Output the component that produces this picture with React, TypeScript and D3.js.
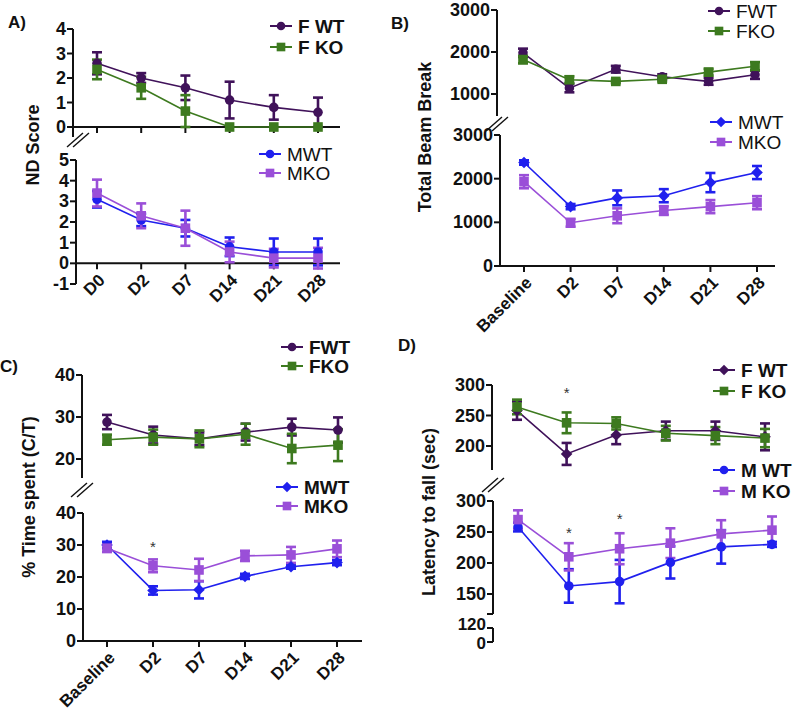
import { useEffect, useRef } from "react"
import * as d3 from "d3"

// categories
const catsA = ["D0", "D2", "D7", "D14", "D21", "D28"]
const catsB = ["Baseline", "D2", "D7", "D14", "D21", "D28"]

// A) ND score
const ndFWT = [2.6, 2.0, 1.6, 1.1, 0.8, 0.6]
const ndFWTerr = [0.45, 0.2, 0.5, 0.75, 0.5, 0.6]
const ndFKO = [2.35, 1.6, 0.65, 0, 0, 0]
const ndFKOerr = [0.4, 0.45, 0.65, 0, 0, 0]
const ndMWT = [3.1, 2.1, 1.7, 0.8, 0.55, 0.55]
const ndMWTerr = [0.4, 0.3, 0.4, 0.45, 0.65, 0.65]
const ndMKO = [3.4, 2.3, 1.7, 0.55, 0.25, 0.25]
const ndMKOerr = [0.65, 0.6, 0.85, 0.5, 0.45, 0.5]

// B) total beam break
const bbFWT = [1980, 1140, 1590, 1410, 1300, 1460]
const bbFWTerr = [100, 100, 80, 60, 80, 100]
const bbFKO = [1820, 1340, 1300, 1350, 1520, 1660]
const bbFKOerr = [90, 80, 40, 50, 80, 100]
const bbMWT = [2370, 1360, 1560, 1610, 1910, 2140]
const bbMWTerr = [50, 60, 170, 150, 220, 150]
const bbMKO = [1930, 990, 1150, 1270, 1360, 1450]
const bbMKOerr = [150, 90, 170, 100, 150, 150]

// C) % time spent
const tsFWT = [28.8, 25.7, 24.8, 26.4, 27.6, 26.9]
const tsFWTerr = [1.7, 2.0, 1.5, 2.0, 2.0, 3.0]
const tsFKO = [24.6, 25.2, 24.8, 25.9, 22.5, 23.3]
const tsFKOerr = [1.2, 1.8, 2.0, 2.5, 3.5, 3.8]
const tsMWT = [30.0, 15.8, 16.0, 20.2, 23.2, 24.5]
const tsMWTerr = [1.0, 1.3, 2.7, 0.8, 0.6, 0.8]
const tsMKO = [29.0, 23.5, 22.2, 26.6, 26.9, 28.8]
const tsMKOerr = [1.2, 2.0, 3.5, 1.6, 2.5, 2.6]

// D) latency to fall
const ltFWT = [258, 187, 218, 225, 225, 215]
const ltFWTerr = [15, 18, 15, 15, 15, 22]
const ltFKO = [264, 238, 237, 221, 217, 213]
const ltFKOerr = [12, 17, 10, 12, 14, 15]
const ltMWT = [258, 163, 170, 201, 226, 230]
const ltMWTerr = [7, 27, 35, 26, 27, 4]
const ltMKO = [270, 210, 223, 232, 247, 253]
const ltMKOerr = [15, 22, 25, 24, 22, 22]

const C_FWT = "#40125a"
const C_FKO = "#3d7a1f"
const C_MWT = "#2020ee"
const C_MKO = "#9a4fd8"

const FONT = "'Liberation Sans', Arial, sans-serif"

type Series = { name: string; color: string; marker: string; mean: number[]; err: number[] }
type Sub = {
  cats: string[]
  xr: [number, number]
  domain: [number, number]
  yr: [number, number]
  ax: number
  axTop: number
  axBot: number
  ticks: number[]
  xAxisAt?: number
  xAxisEnd?: number
  xLabels?: boolean
  series: Series[]
  legend: { x: number; y: number; bold: boolean; gap: number }
  stars?: { cat: string; v: number }[]
}

const subs: Sub[] = [
  {
    cats: catsA, xr: [97, 318], domain: [0, 4], yr: [127, 29], ax: 73, axTop: 29, axBot: 137,
    ticks: [0, 1, 2, 3, 4], xAxisAt: 0, xAxisEnd: 340,
    series: [
      { name: "F WT", color: C_FWT, marker: "circle", mean: ndFWT, err: ndFWTerr },
      { name: "F KO", color: C_FKO, marker: "square", mean: ndFKO, err: ndFKOerr },
    ],
    legend: { x: 270, y: 26, bold: true, gap: 21 },
  },
  {
    cats: catsA, xr: [97, 318], domain: [-1, 5], yr: [284, 160], ax: 76, axTop: 160, axBot: 284,
    ticks: [-1, 0, 1, 2, 3, 4, 5], xAxisAt: 0, xAxisEnd: 340, xLabels: true,
    series: [
      { name: "MWT", color: C_MWT, marker: "circle", mean: ndMWT, err: ndMWTerr },
      { name: "MKO", color: C_MKO, marker: "square", mean: ndMKO, err: ndMKOerr },
    ],
    legend: { x: 259, y: 154, bold: false, gap: 19 },
  },
  {
    cats: catsB, xr: [523, 755], domain: [1000, 3000], yr: [94, 10], ax: 497, axTop: 10, axBot: 116,
    ticks: [1000, 2000, 3000],
    series: [
      { name: "FWT", color: C_FWT, marker: "circle", mean: bbFWT, err: bbFWTerr },
      { name: "FKO", color: C_FKO, marker: "square", mean: bbFKO, err: bbFKOerr },
    ],
    legend: { x: 708, y: 11, bold: false, gap: 20 },
  },
  {
    cats: catsB, xr: [524, 757], domain: [0, 3000], yr: [266, 135], ax: 500, axTop: 135, axBot: 266,
    ticks: [0, 1000, 2000, 3000], xAxisAt: 0, xAxisEnd: 775, xLabels: true,
    series: [
      { name: "MWT", color: C_MWT, marker: "diamond", mean: bbMWT, err: bbMWTerr },
      { name: "MKO", color: C_MKO, marker: "square", mean: bbMKO, err: bbMKOerr },
    ],
    legend: { x: 710, y: 122, bold: false, gap: 20 },
  },
  {
    cats: catsB, xr: [107, 338], domain: [20, 40], yr: [459, 375], ax: 82, axTop: 375, axBot: 478,
    ticks: [20, 30, 40],
    series: [
      { name: "FWT", color: C_FWT, marker: "circle", mean: tsFWT, err: tsFWTerr },
      { name: "FKO", color: C_FKO, marker: "square", mean: tsFKO, err: tsFKOerr },
    ],
    legend: { x: 281, y: 347, bold: true, gap: 19 },
  },
  {
    cats: catsB, xr: [107, 337], domain: [0, 40], yr: [641, 513], ax: 83, axTop: 513, axBot: 641,
    ticks: [0, 10, 20, 30, 40], xAxisAt: 0, xAxisEnd: 362, xLabels: true,
    series: [
      { name: "MWT", color: C_MWT, marker: "diamond", mean: tsMWT, err: tsMWTerr },
      { name: "MKO", color: C_MKO, marker: "square", mean: tsMKO, err: tsMKOerr },
    ],
    legend: { x: 276, y: 487, bold: true, gap: 19 },
    stars: [{ cat: "D2", v: 29.5 }],
  },
  {
    cats: catsB, xr: [517, 765], domain: [200, 300], yr: [446, 385], ax: 492, axTop: 385, axBot: 470,
    ticks: [200, 250, 300],
    series: [
      { name: "F WT", color: C_FWT, marker: "diamond", mean: ltFWT, err: ltFWTerr },
      { name: "F KO", color: C_FKO, marker: "square", mean: ltFKO, err: ltFKOerr },
    ],
    legend: { x: 713, y: 370, bold: true, gap: 21 },
    stars: [{ cat: "D2", v: 287 }],
  },
  {
    cats: catsB, xr: [518, 772], domain: [150, 300], yr: [594, 501], ax: 493, axTop: 501, axBot: 614,
    ticks: [150, 200, 250, 300],
    series: [
      { name: "M WT", color: C_MWT, marker: "circle", mean: ltMWT, err: ltMWTerr },
      { name: "M KO", color: C_MKO, marker: "square", mean: ltMKO, err: ltMKOerr },
    ],
    legend: { x: 713, y: 470, bold: true, gap: 21 },
    stars: [{ cat: "D2", v: 250 }, { cat: "D7", v: 272 }],
  },
]

function marker(g: any, kind: string, x: number, y: number, color: string, s = 1) {
  if (kind === "circle") {
    g.append("circle").attr("cx", x).attr("cy", y).attr("r", 4.8 * s).attr("fill", color)
  } else if (kind === "square") {
    const h = 4.8 * s
    g.append("rect").attr("x", x - h).attr("y", y - h).attr("width", 2 * h).attr("height", 2 * h).attr("fill", color)
  } else {
    const h = 5.8 * s
    g.append("path").attr("d", `M${x},${y - h}L${x + h},${y}L${x},${y + h}L${x - h},${y}Z`).attr("fill", color)
  }
}

export default function App() {
  const ref = useRef<SVGSVGElement>(null)

  useEffect(() => {
    if (!ref.current) return
    const svg = d3.select(ref.current)
    svg.selectAll("*").remove()
    svg.attr("font-family", FONT)

    subs.forEach((p) => {
      const x = d3.scalePoint().domain(p.cats).range(p.xr)
      const y = d3.scaleLinear().domain(p.domain).range(p.yr)
      const g = svg.append("g")

      // y axis
      g.append("line").attr("x1", p.ax).attr("x2", p.ax).attr("y1", p.axTop).attr("y2", p.axBot)
        .attr("stroke", "#111").attr("stroke-width", 2)
      p.ticks.forEach((t) => {
        g.append("line").attr("x1", p.ax - 6).attr("x2", p.ax).attr("y1", y(t)).attr("y2", y(t))
          .attr("stroke", "#111").attr("stroke-width", 2)
        g.append("text").attr("x", p.ax - 7).attr("y", y(t)).attr("text-anchor", "end")
          .attr("dominant-baseline", "central").attr("font-size", 18).attr("font-weight", "bold")
          .attr("fill", "#111").text(t)
      })

      // x axis
      if (p.xAxisAt !== undefined) {
        const ay = y(p.xAxisAt)
        g.append("line").attr("x1", p.ax).attr("x2", p.xAxisEnd!).attr("y1", ay).attr("y2", ay)
          .attr("stroke", "#111").attr("stroke-width", 2)
        p.cats.forEach((c) => {
          g.append("line").attr("x1", x(c)!).attr("x2", x(c)!).attr("y1", ay).attr("y2", ay + 6)
            .attr("stroke", "#111").attr("stroke-width", 2)
        })
        if (p.xLabels) {
          p.cats.forEach((c) => {
            g.append("text")
              .attr("transform", `translate(${x(c)! + 5},${ay + 14}) rotate(-45)`)
              .attr("text-anchor", "end").attr("dominant-baseline", "central")
              .attr("font-size", 17).attr("font-weight", "bold").attr("fill", "#111").text(c)
          })
        }
      }

      // lines
      p.series.forEach((s) => {
        const line = d3.line<number>().x((_, i) => x(p.cats[i])!).y((d) => y(d))
        g.append("path").datum(s.mean).attr("d", line).attr("fill", "none")
          .attr("stroke", s.color).attr("stroke-width", 1.6)
      })
      // error bars
      p.series.forEach((s) => {
        s.mean.forEach((m, i) => {
          const e = s.err[i]
          if (e <= 0) return
          const cx = x(p.cats[i])!
          const eg = g.append("g").attr("stroke", s.color).attr("stroke-width", 2.6)
          eg.append("line").attr("x1", cx).attr("x2", cx).attr("y1", y(m - e)).attr("y2", y(m + e))
          eg.append("line").attr("x1", cx - 5).attr("x2", cx + 5).attr("y1", y(m - e)).attr("y2", y(m - e))
          eg.append("line").attr("x1", cx - 5).attr("x2", cx + 5).attr("y1", y(m + e)).attr("y2", y(m + e))
        })
      })
      // markers
      p.series.forEach((s) => {
        s.mean.forEach((m, i) => marker(g, s.marker, x(p.cats[i])!, y(m), s.color))
      })

      // stars
      ;(p.stars || []).forEach((st) => {
        g.append("text").attr("x", x(st.cat)!).attr("y", y(st.v)).attr("text-anchor", "middle")
          .attr("dominant-baseline", "central").attr("font-size", 15).attr("fill", "#333").text("*")
      })

      // legend
      p.series.forEach((s, i) => {
        const ly = p.legend.y + i * p.legend.gap
        g.append("line").attr("x1", p.legend.x).attr("x2", p.legend.x + 22).attr("y1", ly).attr("y2", ly)
          .attr("stroke", s.color).attr("stroke-width", 2)
        marker(g, s.marker, p.legend.x + 11, ly, s.color, 0.9)
        g.append("text").attr("x", p.legend.x + 28).attr("y", ly).attr("dominant-baseline", "central")
          .attr("font-size", 19).attr("font-weight", p.legend.bold ? "bold" : "normal")
          .attr("fill", "#111").text(s.name)
      })
    })

    // extra low segment of D bottom axis
    const dl = svg.append("g").attr("stroke", "#111").attr("stroke-width", 2)
    dl.append("line").attr("x1", 487).attr("x2", 493).attr("y1", 614).attr("y2", 614)
    dl.append("line").attr("x1", 493).attr("x2", 493).attr("y1", 628).attr("y2", 642)
    dl.append("line").attr("x1", 487).attr("x2", 493).attr("y1", 628).attr("y2", 628)
    dl.append("line").attr("x1", 487).attr("x2", 493).attr("y1", 642).attr("y2", 642)
    ;[["120", 624], ["0", 643]].forEach(([t, yy]) => {
      svg.append("text").attr("x", 486).attr("y", yy as number).attr("text-anchor", "end")
        .attr("dominant-baseline", "central").attr("font-size", 17).attr("font-weight", "bold")
        .attr("fill", "#111").text(t as string)
    })

    // axis break marks
    const breaks = [[78, 140], [497, 124], [82, 490], [493, 485]]
    breaks.forEach(([bx, by]) => {
      ;[-3, 3].forEach((o) => {
        svg.append("line").attr("x1", bx - 8 + o).attr("y1", by + 7).attr("x2", bx + 8 + o).attr("y2", by - 7)
          .attr("stroke", "#111").attr("stroke-width", 1.4)
      })
    })

    // y titles
    const titles: [string, number, number][] = [
      ["ND Score", 33, 145],
      ["Total Beam Break", 425, 137],
      ["% Time spent (C/T)", 29, 497],
      ["Latency to fall (sec)", 429, 512],
    ]
    titles.forEach(([t, tx, ty]) => {
      svg.append("text").attr("transform", `translate(${tx},${ty}) rotate(-90)`)
        .attr("text-anchor", "middle").attr("dominant-baseline", "central")
        .attr("font-size", 18).attr("font-weight", "bold").attr("fill", "#111").text(t)
    })

    // panel letters
    const letters: [string, number, number][] = [["A)", 8, 22], ["B)", 391, 23], ["C)", 0, 366], ["D)", 398, 345]]
    letters.forEach(([t, lx, ly]) => {
      svg.append("text").attr("x", lx).attr("y", ly).attr("dominant-baseline", "central")
        .attr("font-size", 17).attr("font-weight", "bold").attr("fill", "#111").text(t)
    })
  }, [])

  return (
    <div style={{ position: "absolute", left: 0, top: 0 }}>
      <svg ref={ref} width={800} height={721} style={{ display: "block", background: "#fff" }} />
    </div>
  )
}
